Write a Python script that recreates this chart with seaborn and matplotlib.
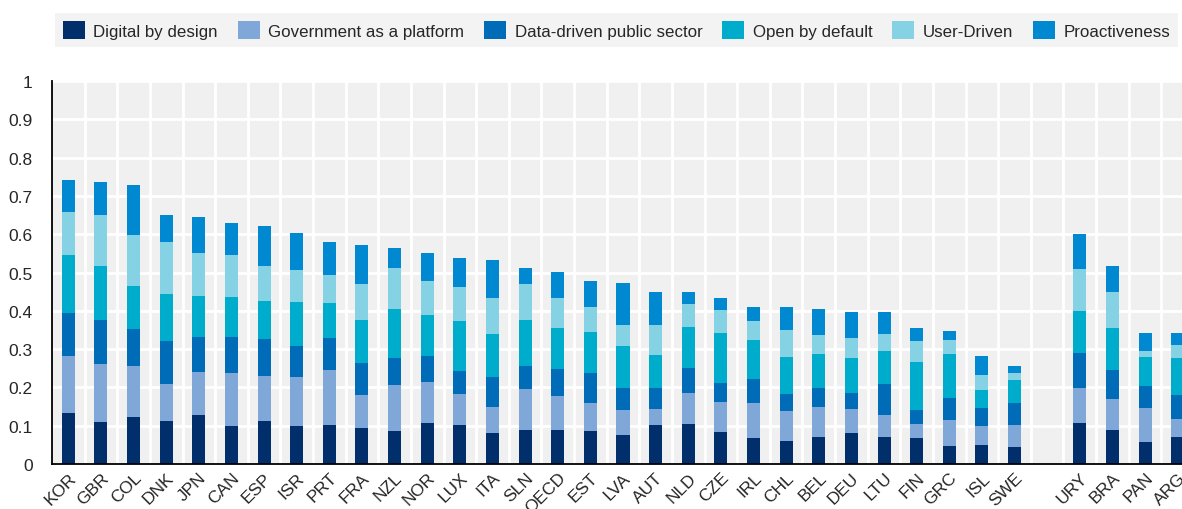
import numpy as np
import pandas as pd
import matplotlib
matplotlib.use("Agg")
import matplotlib.pyplot as plt
from matplotlib.patches import Patch
from matplotlib.ticker import FixedLocator
import seaborn as sns

# países (o espaço vazio separa os não-membros)
countries = ["KOR", "GBR", "COL", "DNK", "JPN", "CAN", "ESP", "ISR", "PRT", "FRA", "NZL",
             "NOR", "LUX", "ITA", "SLN", "OECD", "EST", "LVA", "AUT", "NLD", "CZE", "IRL",
             "CHL", "BEL", "DEU", "LTU", "FIN", "GRC", "ISL", "SWE",
             "URY", "BRA", "PAN", "ARG"]
gap_after = "SWE"

digital_by_design = [0.133, 0.110, 0.123, 0.112, 0.128, 0.100, 0.112, 0.098, 0.103, 0.095, 0.085,
                     0.106, 0.103, 0.082, 0.089, 0.089, 0.085, 0.077, 0.102, 0.104, 0.083, 0.068,
                     0.061, 0.070, 0.081, 0.070, 0.068, 0.048, 0.050, 0.044,
                     0.107, 0.089, 0.057, 0.070]
gov_as_platform = [0.150, 0.152, 0.132, 0.096, 0.113, 0.138, 0.117, 0.128, 0.142, 0.085, 0.121,
                   0.108, 0.080, 0.068, 0.108, 0.088, 0.074, 0.064, 0.041, 0.082, 0.080, 0.091,
                   0.078, 0.080, 0.062, 0.058, 0.036, 0.067, 0.049, 0.057,
                   0.091, 0.080, 0.089, 0.047]
data_driven = [0.112, 0.115, 0.097, 0.114, 0.091, 0.094, 0.098, 0.083, 0.085, 0.084, 0.070,
               0.069, 0.060, 0.078, 0.060, 0.071, 0.079, 0.058, 0.056, 0.065, 0.049, 0.062,
               0.043, 0.049, 0.043, 0.082, 0.038, 0.058, 0.048, 0.059,
               0.092, 0.077, 0.058, 0.064]
open_by_default = [0.150, 0.140, 0.112, 0.122, 0.106, 0.104, 0.098, 0.113, 0.090, 0.112, 0.128,
                   0.107, 0.131, 0.112, 0.119, 0.107, 0.106, 0.110, 0.085, 0.106, 0.130, 0.103,
                   0.098, 0.089, 0.091, 0.085, 0.124, 0.115, 0.046, 0.059,
                   0.109, 0.110, 0.075, 0.096]
user_driven = [0.113, 0.133, 0.133, 0.135, 0.112, 0.110, 0.092, 0.084, 0.073, 0.093, 0.107,
               0.088, 0.089, 0.093, 0.094, 0.078, 0.067, 0.054, 0.078, 0.061, 0.061, 0.050,
               0.070, 0.049, 0.053, 0.045, 0.055, 0.035, 0.039, 0.018,
               0.110, 0.093, 0.016, 0.035]
proactiveness = [0.084, 0.085, 0.132, 0.072, 0.094, 0.082, 0.104, 0.097, 0.086, 0.103, 0.052,
                 0.072, 0.074, 0.099, 0.042, 0.068, 0.066, 0.110, 0.088, 0.031, 0.030, 0.036,
                 0.060, 0.068, 0.067, 0.056, 0.034, 0.023, 0.050, 0.019,
                 0.092, 0.069, 0.047, 0.030]

labels = ["Digital by design", "Government as a platform", "Data-driven public sector",
          "Open by default", "User-Driven", "Proactiveness"]
colors = ["#002F6C", "#7FA8D9", "#006BB6", "#00ACCC", "#86D2E5", "#0089D1"]
series = [digital_by_design, gov_as_platform, data_driven, open_by_default, user_driven, proactiveness]

df = pd.DataFrame(dict(zip(labels, series)), index=countries)
cum = df.cumsum(axis=1)

order = countries[:countries.index(gap_after) + 1] + [" "] + countries[countries.index(gap_after) + 1:]

sns.set_style("white")
plt.rcParams["font.family"] = ["Liberation Sans", "DejaVu Sans"]

fig = plt.figure(figsize=(11.82, 5.10), dpi=100)
ax = fig.add_axes([52 / 1182, 45 / 510, 1142 / 1182, 383 / 510])
ax.set_facecolor("#F0F0F0")

# barras empilhadas: desenha a soma acumulada de cima para baixo
for lab, col in reversed(list(zip(labels, colors))):
    d = cum[lab].rename("v").reset_index().rename(columns={"index": "country"})
    sns.barplot(data=d, x="country", y="v", order=order, color=col, width=0.4,
                errorbar=None, saturation=1, linewidth=0, ax=ax)

ax.set_xlim(-0.5, len(order) - 0.5)
ax.set_ylim(0, 1)
ax.set_yticks(np.arange(0, 1.01, 0.1))
ax.set_yticklabels([f"{v:g}" for v in np.arange(0, 1.01, 0.1).round(1)])
ax.xaxis.set_minor_locator(FixedLocator(np.arange(0.5, len(order) - 1, 1)))
ax.set_xticks(range(len(order)))
ax.set_xticklabels(order, rotation=45, ha="right", rotation_mode="anchor")
ax.tick_params(axis="x", which="major", length=0, pad=4, labelsize=12.5)
ax.tick_params(axis="x", which="minor", direction="in", length=5, width=1.2, color="black")
ax.tick_params(axis="y", direction="in", length=5, width=1.2, labelsize=12.5, pad=14)
ax.grid(True, axis="y", color="white", linewidth=2)
ax.grid(True, axis="x", which="minor", color="white", linewidth=2)
ax.set_axisbelow(True)
ax.set_xlabel("")
ax.set_ylabel("")
for s in ["top", "right"]:
    ax.spines[s].set_visible(False)
for s in ["left", "bottom"]:
    ax.spines[s].set_color("black")
    ax.spines[s].set_linewidth(1.3)

handles = [Patch(facecolor=c, edgecolor="none") for c in colors]
leg = fig.legend(handles, labels, ncol=6, loc="center", mode="expand",
                 bbox_to_anchor=(55 / 1182, 1 - 50 / 510, 1123 / 1182, 38 / 510),
                 frameon=True, fancybox=False,
                 facecolor="#F0F0F0", edgecolor="none", fontsize=12.2,
                 handlelength=1.3, handleheight=1.3, handletextpad=0.5,
                 columnspacing=0.5, borderpad=0.45, borderaxespad=0)
leg.get_frame().set_linewidth(0)

fig.savefig("out.png", dpi=100)
